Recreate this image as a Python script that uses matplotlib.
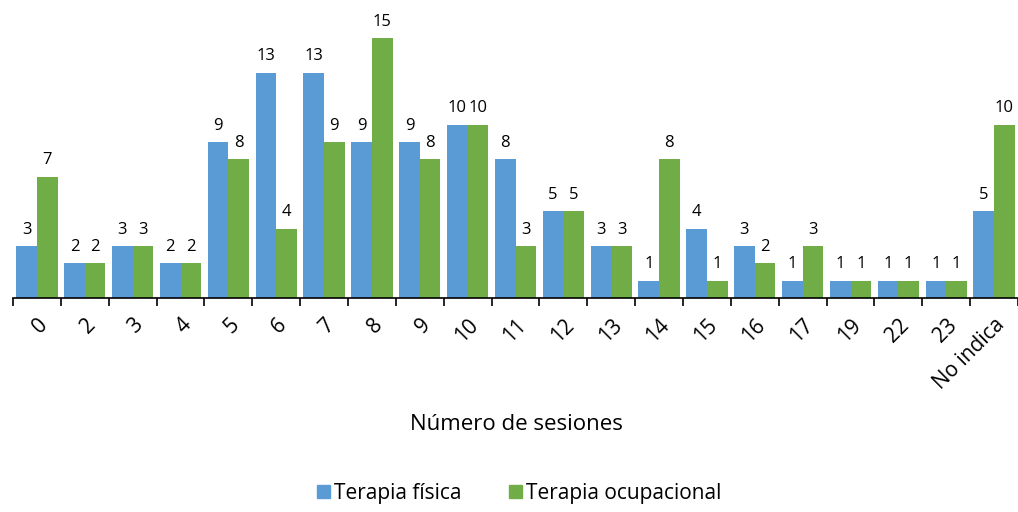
import numpy as np
import matplotlib.pyplot as plt
from matplotlib.patches import Patch

categorias = ['0', '2', '3', '4', '5', '6', '7', '8', '9', '10', '11', '12', '13',
              '14', '15', '16', '17', '19', '22', '23', 'No indica']
terapia_fisica = [3, 2, 3, 2, 9, 13, 13, 9, 9, 10, 8, 5, 3, 1, 4, 3, 1, 1, 1, 1, 5]
terapia_ocupacional = [7, 2, 3, 2, 8, 4, 9, 15, 8, 10, 3, 5, 3, 8, 1, 2, 3, 1, 1, 1, 10]

azul = '#5B9BD5'
verde = '#70AD47'

plt.rcParams['font.family'] = ['Open Sans', 'DejaVu Sans']

fig = plt.figure(figsize=(10.18, 5.12), dpi=100)
ax = fig.add_axes([13 / 1018, (512 - 298) / 512, 1005 / 1018, 293 / 512])

x = np.arange(len(categorias))
w = 0.43
b1 = ax.bar(x - w / 2, terapia_fisica, w, color=azul)
b2 = ax.bar(x + w / 2, terapia_ocupacional, w, color=verde)

for bars, vals in [(b1, terapia_fisica), (b2, terapia_ocupacional)]:
    for r, v in zip(bars, vals):
        ax.annotate(str(v), (r.get_x() + r.get_width() / 2, v),
                    xytext=(0, 6), textcoords='offset points',
                    ha='center', va='bottom', fontsize=12)

ax.set_xlim(-0.5, len(categorias) - 0.5)
ax.set_ylim(0, 16.9)

ax.set_xticks(x)
ax.set_xticklabels(categorias, rotation=45, ha='right', rotation_mode='anchor', fontsize=15)
ax.tick_params(axis='x', which='major', length=0, pad=12)
ax.set_xticks(np.arange(-0.5, len(categorias), 1), minor=True)
ax.tick_params(axis='x', which='minor', length=6, width=1.2, color='black')
ax.set_yticks([])

for s in ['top', 'right', 'left']:
    ax.spines[s].set_visible(False)
ax.spines['bottom'].set_linewidth(1.2)

fig.text(0.507, 1 - 425 / 512, 'Número de sesiones', ha='center', va='center', fontsize=16)

handles = [Patch(color=azul, label='Terapia física'),
           Patch(color=verde, label='Terapia ocupacional')]
fig.legend(handles=handles, loc='center', bbox_to_anchor=(0.51, 1 - 493 / 512),
           ncol=2, frameon=False, fontsize=15, handlelength=0.6, handleheight=0.6,
           handletextpad=0.2, columnspacing=2.3)

fig.savefig('out.png', dpi=100)
